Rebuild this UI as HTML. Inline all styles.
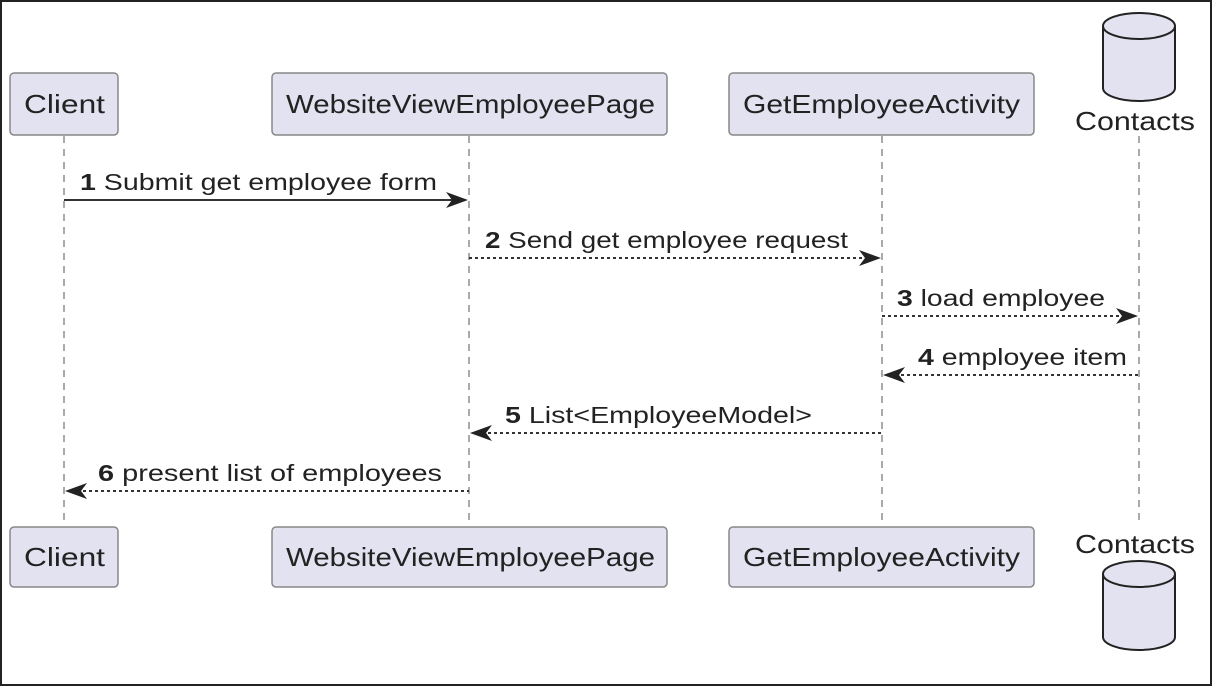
<!DOCTYPE html>
<html><head><style>body{margin:0;background:#fff}</style></head><body>
<svg width="1212" height="686" xmlns="http://www.w3.org/2000/svg" font-family="Liberation Sans, sans-serif">
<rect x="1" y="1" width="1210" height="684" fill="#fff" stroke="#222" stroke-width="2"/>
<g stroke="#aaa" stroke-width="2" stroke-dasharray="7,6">
<line x1="64" y1="136" x2="64" y2="526"/>
<line x1="469" y1="136" x2="469" y2="526"/>
<line x1="882" y1="136" x2="882" y2="526"/>
<line x1="1139" y1="136" x2="1139" y2="526"/>
</g>
<g fill="#e2e2f0" stroke="#888" stroke-width="1.5">
<rect x="10" y="73" width="108" height="62" rx="4"/>
<rect x="272" y="73" width="395" height="62" rx="4"/>
<rect x="729" y="73" width="305" height="62" rx="4"/>
<rect x="10" y="527" width="108" height="60" rx="4"/>
<rect x="272" y="527" width="395" height="60" rx="4"/>
<rect x="729" y="527" width="305" height="60" rx="4"/>
</g>
<g fill="#e2e2f0" stroke="#222" stroke-width="2">
<path d="M1103 26 V88 A36 13 0 0 0 1175 88 V26"/>
<ellipse cx="1139" cy="26" rx="36" ry="13"/>
<path d="M1103 574 V637 A36 13 0 0 0 1175 637 V574"/>
<ellipse cx="1139" cy="574" rx="36" ry="13"/>
</g>
<g font-size="26" fill="#222">
<text x="24" y="113" textLength="81" lengthAdjust="spacingAndGlyphs">Client</text>
<text x="286" y="113" textLength="369" lengthAdjust="spacingAndGlyphs">WebsiteViewEmployeePage</text>
<text x="743" y="113" textLength="277" lengthAdjust="spacingAndGlyphs">GetEmployeeActivity</text>
<text x="1075" y="130" textLength="120" lengthAdjust="spacingAndGlyphs">Contacts</text>
<text x="24" y="566" textLength="81" lengthAdjust="spacingAndGlyphs">Client</text>
<text x="286" y="566" textLength="369" lengthAdjust="spacingAndGlyphs">WebsiteViewEmployeePage</text>
<text x="743" y="566" textLength="277" lengthAdjust="spacingAndGlyphs">GetEmployeeActivity</text>
<text x="1075" y="553" textLength="120" lengthAdjust="spacingAndGlyphs">Contacts</text>
</g>
<g stroke="#333" stroke-width="2">
<line x1="64" y1="200" x2="462" y2="200"/>
<g stroke-dasharray="3,3">
<line x1="469" y1="258" x2="875" y2="258"/>
<line x1="882" y1="316" x2="1132" y2="316"/>
<line x1="889" y1="375" x2="1139" y2="375"/>
<line x1="476" y1="433" x2="882" y2="433"/>
<line x1="71" y1="491" x2="469" y2="491"/>
</g>
</g>
<g fill="#222">
<path d="M468 200 L446 192 L452 200 L446 208Z"/>
<path d="M881 258 L859 250 L865 258 L859 266Z"/>
<path d="M1138 316 L1116 308 L1122 316 L1116 324Z"/>
<path d="M883 375 L905 367 L899 375 L905 383Z"/>
<path d="M470 433 L492 425 L486 433 L492 441Z"/>
<path d="M65 491 L87 483 L81 491 L87 499Z"/>
</g>
<g font-size="23" fill="#222" lengthAdjust="spacingAndGlyphs">
<text x="80" y="190" textLength="357" lengthAdjust="spacingAndGlyphs"><tspan font-weight="bold">1</tspan> Submit get employee form</text>
<text x="485" y="248" textLength="363" lengthAdjust="spacingAndGlyphs"><tspan font-weight="bold">2</tspan> Send get employee request</text>
<text x="897" y="306" textLength="208" lengthAdjust="spacingAndGlyphs"><tspan font-weight="bold">3</tspan> load employee</text>
<text x="918" y="365" textLength="209" lengthAdjust="spacingAndGlyphs"><tspan font-weight="bold">4</tspan> employee item</text>
<text x="505" y="423" textLength="307" lengthAdjust="spacingAndGlyphs"><tspan font-weight="bold">5</tspan> List&lt;EmployeeModel&gt;</text>
<text x="98" y="481" textLength="344" lengthAdjust="spacingAndGlyphs"><tspan font-weight="bold">6</tspan> present list of employees</text>
</g>
</svg>
</body></html>
